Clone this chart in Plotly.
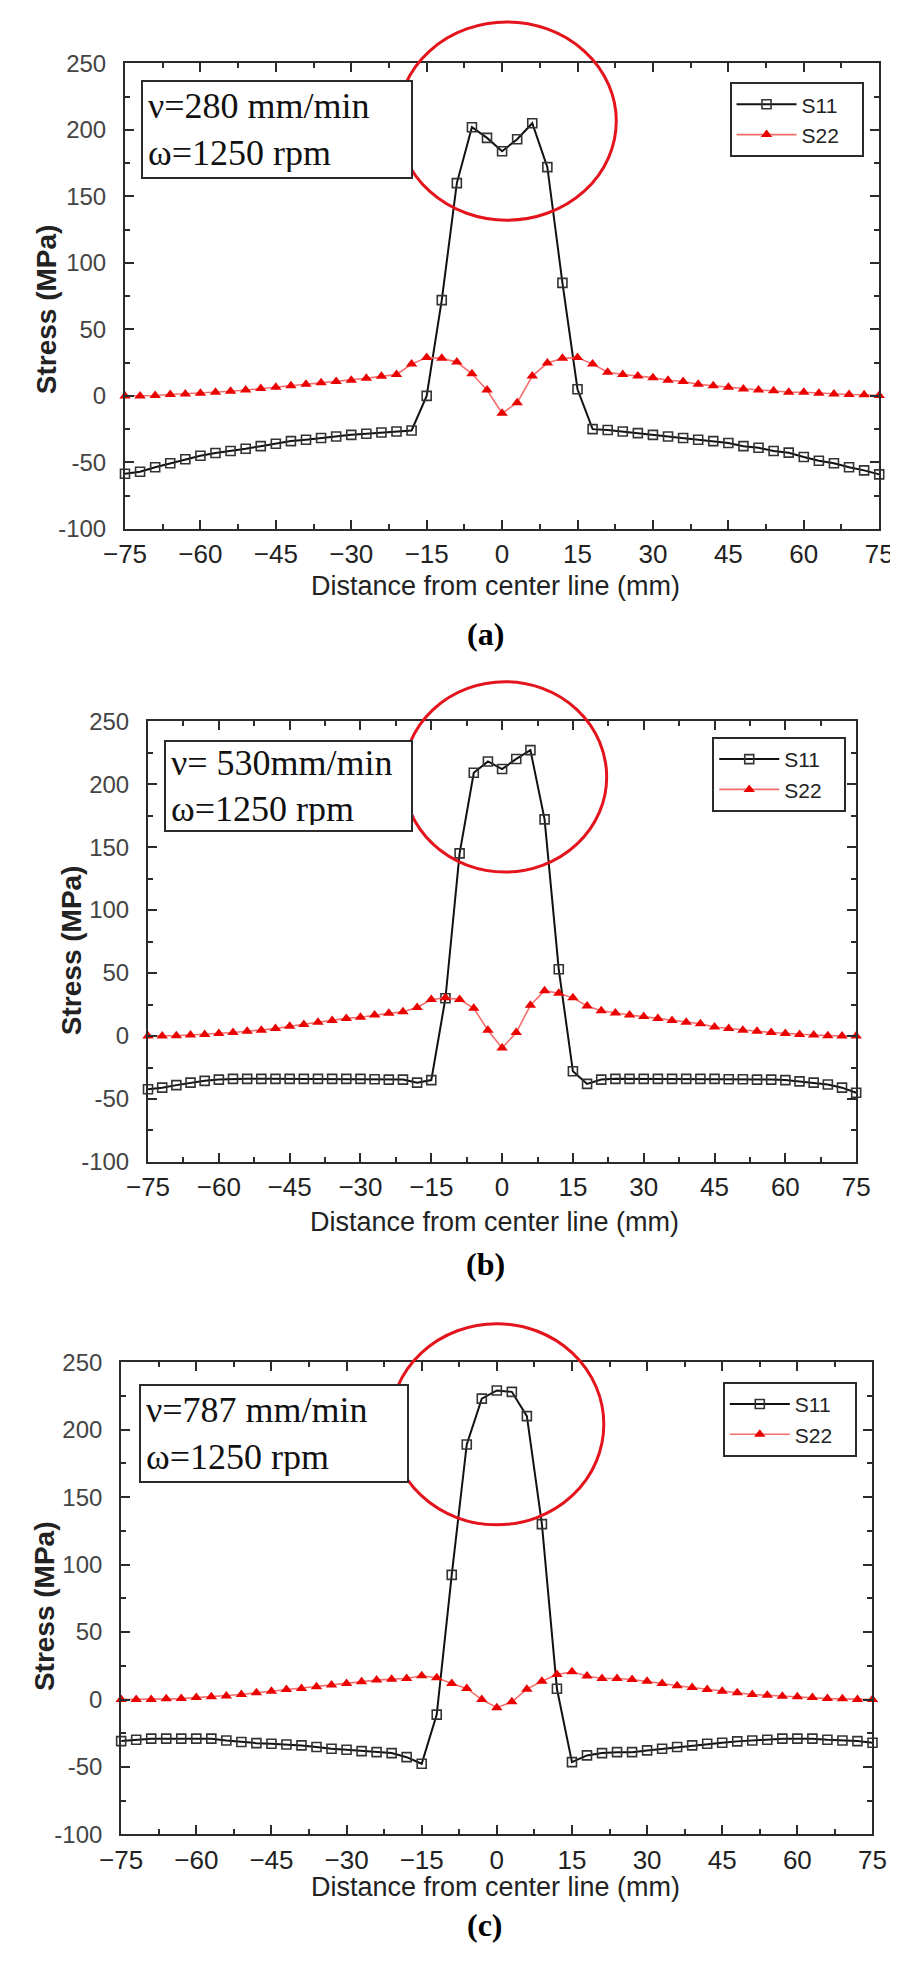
import plotly.graph_objects as go

# ---------------- data ----------------
x_mm = [-75, -72, -69, -66, -63, -60, -57, -54, -51, -48, -45, -42, -39, -36, -33, -30, -27,
        -24, -21, -18, -15, -12, -9, -6, -3, 0, 3, 6, 9, 12, 15, 18, 21, 24, 27, 30, 33, 36,
        39, 42, 45, 48, 51, 54, 57, 60, 63, 66, 69, 72, 75]

s11_a = [-58.5, -57, -53.7, -50.7, -47.6, -45, -43, -41.5, -39.8, -37.8, -36, -34, -33, -31.7,
         -30.5, -29.3, -28.5, -27.5, -26.8, -26, 0, 72, 160, 202, 194, 184, 193, 205, 172, 85,
         5, -25, -25.6, -26.8, -28, -29.3, -30.5, -31.7, -33, -34, -35.4, -37.8, -39, -41.5,
         -42.7, -46, -48.8, -50.7, -53.7, -56, -59]
s22_a = [0, 0, 0.3, 1, 1.5, 2, 2.7, 3.5, 4.4, 5.6, 6.4, 7.6, 8.8, 9.8, 10.8, 11.7, 13.2, 14.7,
         16.1, 23.9, 28.8, 28.3, 25.4, 16.6, 4.4, -13.1, -5.1, 14.9, 24.7, 28.3, 28.8, 23.9,
         17.8, 16.1, 14.9, 13.7, 11.7, 10.8, 8.8, 7.6, 6.4, 5.2, 4.4, 3.9, 2.7, 2.7, 2, 1.5, 1,
         0.8, 0.3]

s11_b = [-42.3, -41, -39, -37, -35.6, -34.6, -34, -34, -34, -34, -34, -34, -34, -34, -34, -34,
         -34.3, -34.6, -34.6, -37, -35, 30, 145, 209, 218, 212, 220, 227, 172, 53, -28, -38,
         -34.6, -34, -34, -34, -34, -34, -34, -34, -34, -34.3, -34.3, -34.6, -34.6, -35, -36,
         -37, -38.5, -41, -45]
s22_b = [0, 0, 0.3, 0.8, 1.3, 2, 2.8, 3.8, 4.6, 5.9, 7.7, 9.2, 11, 12.3, 14, 14.9, 16.7, 18,
         19.2, 22.6, 29, 30.3, 29, 22, 4.6, -9.5, 2.8, 24.4, 36, 34, 30.3, 23.8, 20, 18.2, 16.7,
         15.4, 14, 12.3, 11, 9.7, 7.2, 5.9, 4.6, 3.8, 2.8, 2, 1.3, 0.8, 0.3, 0, 0]

s11_c = [-30.8, -29.8, -29, -29, -29, -29, -29, -30.3, -31.5, -32.3, -32.8, -33.3, -34, -35.2,
         -36.5, -37.2, -38.2, -39, -39.7, -42.7, -47.6, -11.2, 92.4, 189, 223, 229, 228, 210,
         130, 8, -46.4, -41.4, -39.7, -39, -39, -37.7, -36.5, -35.2, -34, -32.8, -32, -31,
         -30.3, -29.8, -29, -29, -29, -29.8, -30.3, -30.8, -32]
s22_c = [0, 0, 0, 0.5, 0.7, 1.5, 2, 2.7, 3.7, 5, 6.2, 7.4, 8.2, 9.4, 10.7, 11.9, 13.2, 14.4,
         15.1, 15.6, 17.6, 16.1, 11.9, 8.2, 0, -6, -1.7, 7.7, 13.6, 18.6, 20.6, 17.4, 15.6,
         15.6, 14.9, 13.6, 11.9, 10.2, 8.9, 7.4, 6.2, 5, 3.7, 3.2, 2.5, 2, 1.5, 0.7, 0.5, 0, 0]

series_names = ["S11", "S22"]
x_ticks = [-75, -60, -45, -30, -15, 0, 15, 30, 45, 60, 75]
x_tick_text = ["−75", "−60", "−45", "−30", "−15", "0", "15", "30", "45", "60", "75"]
y_ticks = [-100, -50, 0, 50, 100, 150, 200, 250]
y_tick_text = ["-100", "-50", "0", "50", "100", "150", "200", "250"]
conditions = ["ν=280 mm/min<br>ω=1250 rpm", "ν= 530mm/min<br>ω=1250 rpm",
              "ν=787 mm/min<br>ω=1250 rpm"]
panel_labels = ["(a)", "(b)", "(c)"]
x_title = "Distance from center line (mm)"
y_title = "Stress (MPa)"

# ---------------- figure ----------------
# the page body keeps its default 8px margin, so the figure is drawn 8px in from
# the window's top-left corner; layout positions below are given in window pixels.
OFF = 8
W, H = 898 - OFF, 1962 - 2 * OFF
NARROW = "Liberation Sans Narrow, Arial Narrow, Liberation Sans, Arial, sans-serif"
SANS = "Liberation Sans, Arial, sans-serif"
SERIF = "Liberation Serif, Times New Roman, serif"
INK = "#2b2b2b"

def px_x(v):
    return min(1.0, max(0.0, (v - OFF) / W))

def px_y(v):
    return 1 - (v - OFF) / H

# plot-area window-pixel boxes (left, right, top, bottom)
boxes = [(107, 893, 50, 522), (131, 869, 717, 1164), (103, 886, 1367, 1846)]
legend_pos = [(737, 69), (719, 733), (730, 1387)]
cond_box = [(124, 67, 272, 95), (148, 736, 249, 88), (122, 1389, 270, 95)]
xlab_pos = [(493, 580), (492, 1225), (493, 1899)]
ylab_pos = [(26, 299), (52, 949), (23, 1614)]
plab_pos = [(483, 629), (483, 1267), (482, 1938)]
ellipses = [(391, 619, 8, 209), (397, 609, 677, 870), (383, 606, 1328, 1532)]

data_sets = [(s11_a, s22_a), (s11_b, s22_b), (s11_c, s22_c)]
PADNAME = "\u00a0" * 3

fig = go.Figure()
layout = dict(width=W, height=H, margin=dict(l=0, r=0, t=0, b=0),
              paper_bgcolor="white", plot_bgcolor="white", showlegend=True)
annotations = []
shapes = []

for i, ((s11, s22), (l, r, t, b)) in enumerate(zip(data_sets, boxes)):
    sfx = "" if i == 0 else str(i + 1)
    leg = "legend" + sfx
    fig.add_trace(go.Scatter(
        x=x_mm, y=s11, name=series_names[0] + PADNAME, mode="lines+markers",
        xaxis="x" + sfx, yaxis="y" + sfx, legend=leg, cliponaxis=False,
        line=dict(color="#111111", width=2),
        marker=dict(symbol="square-open", size=9, color="#333333", line=dict(width=1.6))))
    fig.add_trace(go.Scatter(
        x=x_mm, y=s22, name=series_names[1] + PADNAME, mode="lines+markers",
        xaxis="x" + sfx, yaxis="y" + sfx, legend=leg, cliponaxis=False,
        line=dict(color="rgb(245,110,110)", width=1.6),
        marker=dict(symbol="triangle-up", size=10, color="rgb(235,0,0)")))

    layout["xaxis" + sfx] = dict(
        domain=[px_x(l), px_x(r)], anchor="y" + sfx, range=[-75, 75],
        tickvals=x_ticks, ticktext=x_tick_text, ticks="inside", ticklen=9, tickwidth=2,
        tickcolor=INK, showline=True, linecolor=INK, linewidth=2, mirror="ticks",
        showgrid=False, zeroline=False, ticklabelstandoff=1,
        minor=dict(dtick=7.5, tick0=0, ticks="inside", ticklen=5, tickwidth=1.5,
                   tickcolor=INK, showgrid=False),
        tickfont=dict(family=NARROW, size=26, color="#222"))
    layout["yaxis" + sfx] = dict(
        domain=[px_y(b), px_y(t)], anchor="x" + sfx, range=[-100, 250],
        tickvals=y_ticks, ticktext=y_tick_text, ticks="inside", ticklen=9, tickwidth=2,
        tickcolor=INK, showline=True, linecolor=INK, linewidth=2, mirror="ticks",
        showgrid=False, zeroline=False, ticklabelstandoff=12,
        minor=dict(dtick=25, tick0=0, ticks="inside", ticklen=5, tickwidth=1.5,
                   tickcolor=INK, showgrid=False),
        tickfont=dict(family=NARROW, size=24, color="#444"))

    lx, ly = legend_pos[i]
    layout[leg] = dict(x=px_x(lx), y=px_y(ly), xanchor="left", yanchor="top",
                       bgcolor="white", bordercolor=INK, borderwidth=2,
                       font=dict(family=NARROW, size=21, color="#222"),
                       itemwidth=60, tracegroupgap=0)

    cx, cy, cw, ch = cond_box[i]
    annotations.append(dict(
        xref="paper", yref="paper", x=px_x(cx), y=px_y(cy), xanchor="left", yanchor="top",
        text=conditions[i], showarrow=False, align="left", valign="middle",
        width=cw - 14, height=ch - 10, borderpad=5, bordercolor=INK, borderwidth=2,
        bgcolor="white", font=dict(family=SERIF, size=36, color="#111")))

    ax_, ay_ = xlab_pos[i]
    annotations.append(dict(xref="paper", yref="paper", x=px_x(ax_), y=px_y(ay_),
                            xanchor="center", yanchor="middle", text=x_title, showarrow=False,
                            font=dict(family=SANS, size=27, color="#222")))
    bx_, by_ = ylab_pos[i]
    annotations.append(dict(xref="paper", yref="paper", x=px_x(bx_), y=px_y(by_),
                            xanchor="center", yanchor="middle", text="<b>" + y_title + "</b>",
                            textangle=-90, showarrow=False,
                            font=dict(family=SANS, size=28, color="#222")))
    qx, qy = plab_pos[i]
    annotations.append(dict(xref="paper", yref="paper", x=px_x(qx), y=px_y(qy),
                            xanchor="center", yanchor="middle",
                            text="<b>" + panel_labels[i] + "</b>", showarrow=False,
                            font=dict(family=SERIF, size=32, color="#000")))

    ex0, ex1, ey0, ey1 = ellipses[i]
    shapes.append(dict(type="circle", xref="paper", yref="paper",
                       x0=px_x(ex0), x1=px_x(ex1), y0=px_y(ey1), y1=px_y(ey0),
                       line=dict(color="rgb(228,20,28)", width=3)))

layout["annotations"] = annotations
layout["shapes"] = shapes
fig.update_layout(**layout)
fig.write_html("out.html")
